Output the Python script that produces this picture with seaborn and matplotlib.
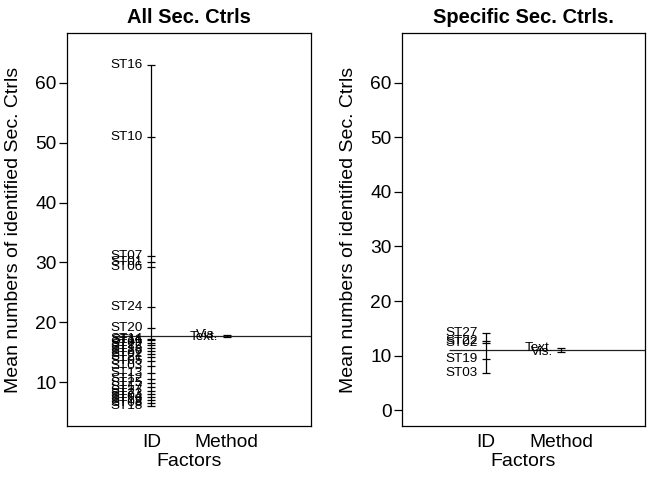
import numpy as np
import pandas as pd
import seaborn as sns
import matplotlib
matplotlib.use("Agg")
import matplotlib.pyplot as plt

sns.set_style("ticks")
plt.rcParams['font.family'] = ['Liberation Sans', 'DejaVu Sans']
plt.rcParams.update({"text.color": "black", "axes.labelcolor": "black",
                     "xtick.color": "black", "ytick.color": "black"})

# ---- data (mean number of identified controls) ----
factors = ["ID", "Method"]

all_id_labels = ["ST16", "ST10", "ST07", "ST01", "ST06", "ST24", "ST20",
                 "ST14", "ST11", "ST09", "ST22", "ST15", "ST26", "ST02",
                 "ST21", "ST05", "ST03", "ST13", "ST12", "ST25", "ST17",
                 "ST27", "ST23", "ST04", "ST19", "ST08", "ST18"]
all_id_means = [63.0, 51.0, 31.1, 30.0, 29.2, 22.6, 19.0,
                17.3, 17.0, 16.6, 16.2, 15.8, 15.3, 14.8,
                14.3, 13.6, 12.8, 11.5, 10.6, 9.8, 9.2,
                8.6, 8.0, 7.5, 7.1, 6.6, 6.1]
all_method_labels = ["Vis.", "Text."]
all_method_means = [17.9, 17.5]

spec_id_labels = ["ST27", "ST22", "ST02", "ST19", "ST03"]
spec_id_means = [14.1, 12.7, 12.4, 9.3, 6.9]
spec_method_labels = ["Text.", "Vis."]
spec_method_means = [11.4, 10.7]

panels = [
    ("All Sec. Ctrls", all_id_labels, all_id_means,
     all_method_labels, all_method_means, (2.7, 68.3), range(10, 61, 10)),
    ("Specific Sec. Ctrls.", spec_id_labels, spec_id_means,
     spec_method_labels, spec_method_means, (-2.9, 69.1), range(0, 61, 10)),
]

fig = plt.figure(figsize=(6.52, 4.79), dpi=100)
ax_left = fig.add_axes([0.1028, 0.1106, 0.374, 0.8205])
ax_right = fig.add_axes([0.6166, 0.1106, 0.3727, 0.8205])

for ax, (title, id_lab, id_val, m_lab, m_val, ylim, yt) in zip([ax_left, ax_right], panels):
    df = pd.concat([
        pd.DataFrame({"factor": 1, "level": id_lab, "mean": id_val}),
        pd.DataFrame({"factor": 2, "level": m_lab, "mean": m_val}),
    ], ignore_index=True)

    # grand mean line
    grand = np.mean(m_val)
    ax.hlines(grand, 0.5, 3.5, color="#222222", lw=0.9, zorder=1)

    for j, grp in df.groupby("factor"):
        ax.vlines(j, grp["mean"].min(), grp["mean"].max(), color="black", lw=0.9)
        for _, r in grp.iterrows():
            ax.text(j - 0.11, r["mean"], r["level"], ha="right", va="center",
                    fontsize=9.7, color="black")

    sns.scatterplot(data=df, x="factor", y="mean", marker="_", s=30,
                    color="black", linewidth=0.9, ax=ax, legend=False, zorder=3)

    ax.set_xlim(-0.12, 3.12)
    ax.set_ylim(*ylim)
    ax.set_xticks([1, 2])
    ax.set_xticklabels(factors, fontsize=13.8)
    ax.tick_params(axis="x", length=0, pad=5.5)
    ax.set_yticks(list(yt))
    ax.tick_params(axis="y", labelsize=13.8, length=6, width=0.9, pad=1.5, direction="out")
    ax.set_xlabel("Factors", fontsize=14, labelpad=2)
    ax.set_ylabel("Mean numbers of identified Sec. Ctrls", fontsize=14)
    ax.yaxis.set_label_coords(-0.185, 0.5)
    ax.set_title(title, fontsize=14.5, fontweight="bold", pad=7)
    for sp in ax.spines.values():
        sp.set_visible(True)
        sp.set_color("black")
        sp.set_linewidth(0.9)

fig.savefig("out.png", dpi=100)
